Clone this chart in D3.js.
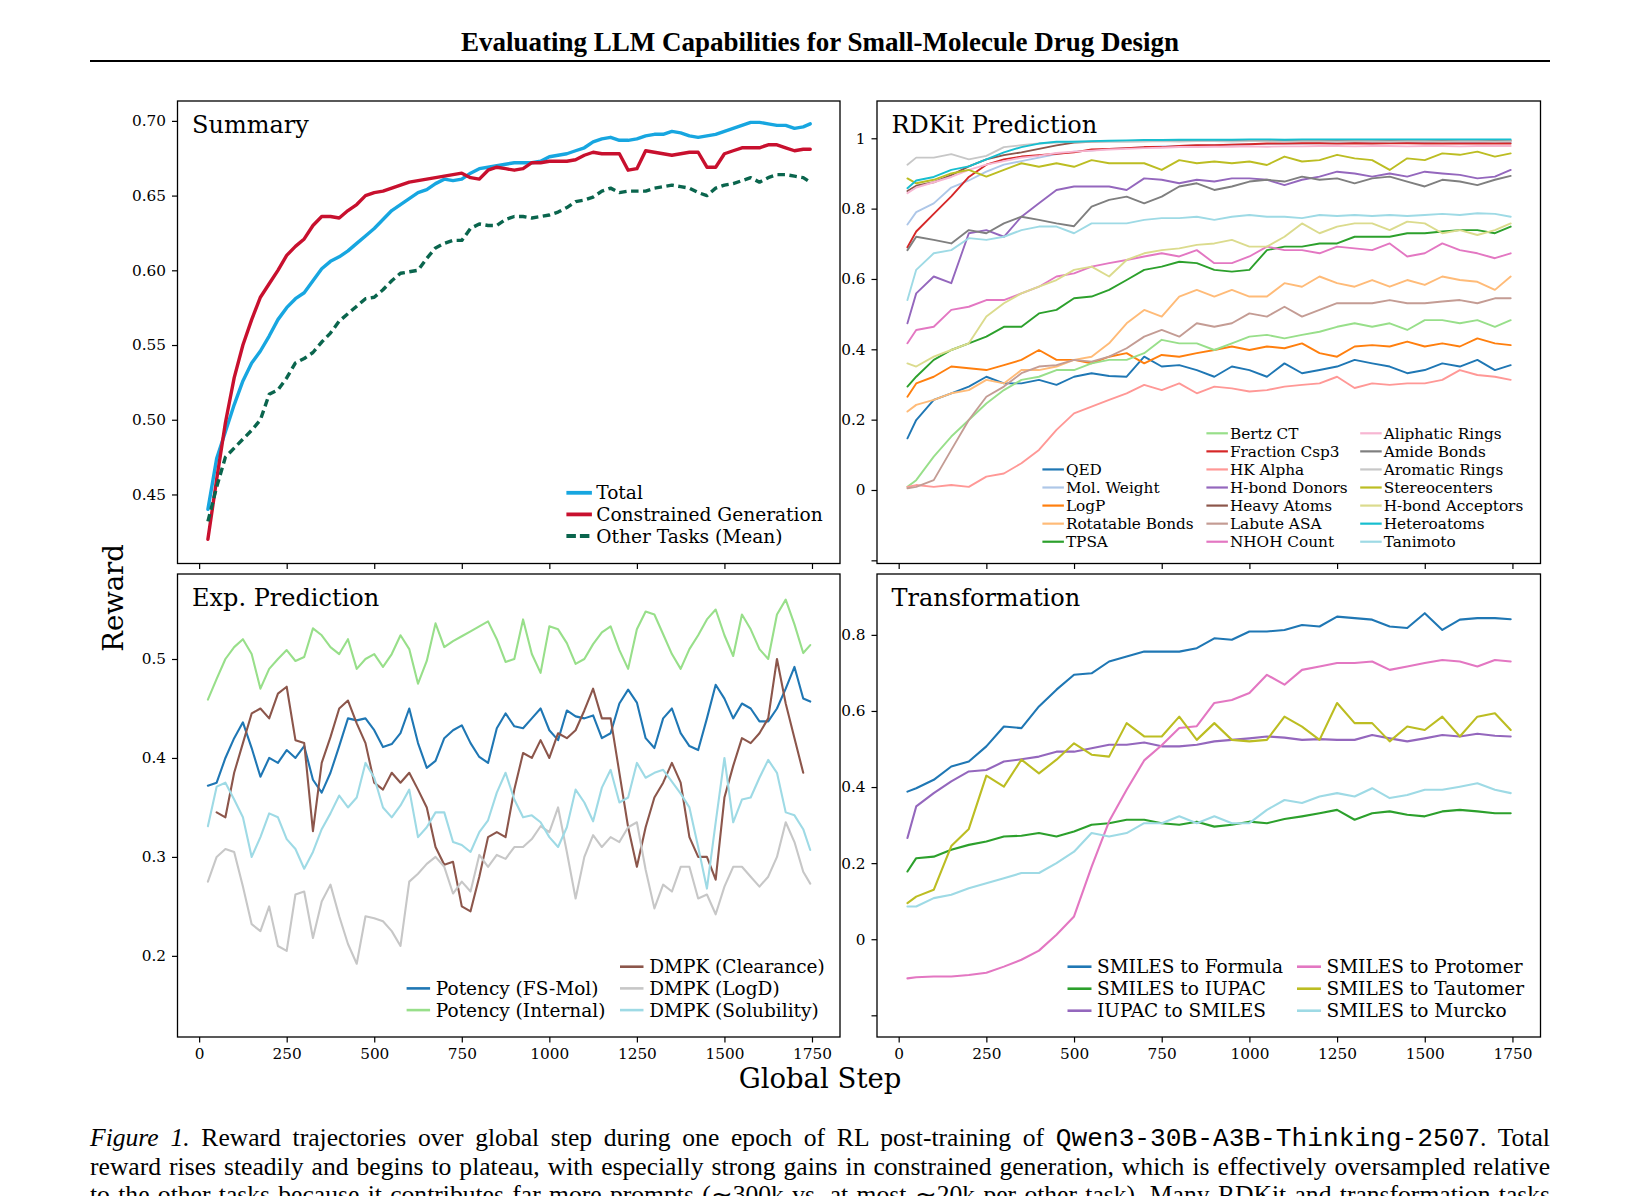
<!DOCTYPE html>
<html>
<head>
<meta charset="utf-8">
<script src="https://cdn.jsdelivr.net/npm/d3@7"></script>
<style>
  body { margin: 0; background: #ffffff; }
  svg { display: block; }
  text { white-space: pre; }
</style>
</head>
<body>
<svg id="fig" width="1639" height="1196"></svg>
<script>
// ---------------- DATA ----------------
const stepsFine = [25,50,75,100,125,150,175,200,225,250,275,300,325,350,375,400,425,450,475,500,
  525,550,575,600,625,650,675,700,725,750,775,800,825,850,875,900,925,950,975,1000,
  1025,1050,1075,1100,1125,1150,1175,1200,1225,1250,1275,1300,1325,1350,1375,1400,1425,1450,1475,1500,
  1525,1550,1575,1600,1625,1650,1675,1700,1725,1745];
const stepsCoarse = [25,50,100,150,200,250,300,350,400,450,500,550,600,650,700,750,800,850,900,950,
  1000,1050,1100,1150,1200,1250,1300,1350,1400,1450,1500,1550,1600,1650,1700,1745];

const xTicks = [0,250,500,750,1000,1250,1500,1750];

// Summary
const sumTotal = [0.440,0.474,0.492,0.510,0.526,0.538,0.546,0.556,0.567,0.575, 0.581,0.585,0.593,0.601,0.606,0.609,0.613,0.618,0.623,0.628,
  0.634,0.640,0.644,0.648,0.652,0.654,0.658,0.661,0.660,0.661, 0.665,0.668,0.669,0.670,0.671,0.672,0.672,0.672,0.673,0.676,
  0.677,0.678,0.680,0.682,0.686,0.688,0.689,0.687,0.687,0.688, 0.690,0.691,0.691,0.693,0.692,0.690,0.689,0.690,0.691,0.693,
  0.695,0.697,0.699,0.699,0.698,0.697,0.697,0.695,0.696, 0.698];
const sumConstrained = [0.420,0.460,0.498,0.528,0.550,0.567,0.582,0.591,0.600,0.610, 0.616,0.621,0.630,0.636,0.636,0.635,0.640,0.644,0.650,0.652,
  0.653,0.655,0.657,0.659,0.660,0.661,0.662,0.663,0.664,0.665, 0.662,0.661,0.667,0.669,0.668,0.667,0.668,0.672,0.672,0.673,
  0.673,0.673,0.674,0.677,0.679,0.678,0.678,0.678,0.667,0.668, 0.680,0.679,0.678,0.677,0.678,0.679,0.679,0.669,0.669,0.678,
  0.680,0.682,0.682,0.682,0.684,0.684,0.682,0.680,0.681, 0.681];
const sumOther = [0.432,0.455,0.475,0.481,0.487,0.493,0.500,0.517,0.520,0.528, 0.538,0.541,0.545,0.552,0.558,0.566,0.571,0.576,0.581,0.582,
  0.587,0.593,0.598,0.599,0.600,0.608,0.615,0.618,0.620,0.620, 0.628,0.631,0.630,0.630,0.634,0.636,0.636,0.635,0.636,0.637,
  0.639,0.642,0.646,0.647,0.649,0.653,0.655,0.652,0.653,0.653, 0.653,0.655,0.656,0.657,0.656,0.655,0.652,0.650,0.655,0.657,
  0.658,0.660,0.662,0.659,0.662,0.664,0.664,0.663,0.662, 0.659];
const sumNames = ["Total","Constrained Generation","Other Tasks (Mean)"];
const sumTicks = [0.45,0.50,0.55,0.60,0.65,0.70];

// RDKit prediction (stepsCoarse)
const rdQED = [0.147,0.199,0.256,0.275,0.294,0.322,0.303,0.303,0.313,0.299,0.322,0.332,0.324,0.322,0.379,0.351,0.355,0.341,0.322,0.351,0.341,0.322,0.360,0.332,0.341,0.351,0.370,0.360,0.351,0.332,0.341,0.360,0.351,0.370,0.341,0.355];
const rdMolWt = [0.755,0.790,0.815,0.860,0.880,0.905,0.925,0.935,0.945,0.955,0.962,0.965,0.970,0.972,0.975,0.977,0.978,0.980,0.981,0.982,0.983,0.984,0.985,0.985,0.986,0.986,0.987,0.986,0.987,0.987,0.988,0.987,0.988,0.988,0.987,0.988];
const rdLogP = [0.265,0.303,0.322,0.351,0.346,0.341,0.355,0.370,0.398,0.370,0.370,0.360,0.379,0.389,0.360,0.384,0.379,0.389,0.398,0.408,0.398,0.408,0.403,0.417,0.389,0.379,0.408,0.412,0.408,0.422,0.408,0.417,0.408,0.431,0.417,0.412];
const rdRotB = [0.223,0.242,0.256,0.275,0.284,0.313,0.303,0.341,0.341,0.351,0.370,0.379,0.417,0.474,0.512,0.493,0.550,0.569,0.550,0.569,0.550,0.550,0.588,0.578,0.607,0.588,0.578,0.597,0.578,0.597,0.583,0.607,0.597,0.592,0.569,0.607];
const rdTPSA = [0.294,0.322,0.370,0.398,0.417,0.436,0.464,0.464,0.502,0.512,0.545,0.550,0.569,0.597,0.626,0.635,0.649,0.645,0.626,0.621,0.626,0.682,0.692,0.692,0.701,0.701,0.720,0.720,0.720,0.730,0.730,0.735,0.739,0.739,0.730,0.749];
const rdBertz = [0.009,0.028,0.095,0.152,0.199,0.246,0.284,0.313,0.322,0.341,0.341,0.360,0.370,0.370,0.389,0.427,0.417,0.417,0.398,0.417,0.436,0.441,0.431,0.441,0.450,0.464,0.474,0.464,0.474,0.455,0.483,0.483,0.474,0.483,0.464,0.483];
const rdFsp3 = [0.690,0.735,0.785,0.835,0.890,0.925,0.940,0.948,0.952,0.956,0.960,0.968,0.970,0.972,0.975,0.975,0.978,0.980,0.980,0.982,0.983,0.985,0.985,0.986,0.986,0.985,0.986,0.985,0.986,0.986,0.985,0.986,0.985,0.985,0.986,0.985];
const rdHK = [0.009,0.014,0.009,0.014,0.009,0.038,0.047,0.076,0.114,0.171,0.218,0.237,0.256,0.275,0.299,0.284,0.303,0.275,0.294,0.289,0.280,0.284,0.294,0.299,0.303,0.322,0.290,0.303,0.299,0.303,0.303,0.313,0.341,0.327,0.322,0.313];
const rdHBD = [0.474,0.559,0.607,0.588,0.730,0.739,0.720,0.777,0.815,0.853,0.863,0.863,0.863,0.853,0.886,0.882,0.872,0.882,0.877,0.886,0.886,0.882,0.867,0.882,0.891,0.905,0.900,0.891,0.900,0.891,0.905,0.900,0.896,0.886,0.891,0.910];
const rdHeavy = [0.850,0.865,0.875,0.895,0.920,0.940,0.952,0.960,0.970,0.980,0.988,0.990,0.992,0.992,0.993,0.992,0.993,0.993,0.993,0.993,0.994,0.993,0.994,0.993,0.994,0.994,0.993,0.994,0.994,0.993,0.994,0.994,0.993,0.994,0.994,0.993];
const rdLabute = [0.005,0.009,0.028,0.114,0.199,0.265,0.294,0.332,0.351,0.355,0.370,0.365,0.379,0.403,0.436,0.455,0.436,0.474,0.464,0.474,0.502,0.493,0.521,0.493,0.512,0.531,0.531,0.531,0.540,0.531,0.531,0.536,0.540,0.531,0.545,0.545];
const rdNHOH = [0.417,0.455,0.464,0.512,0.521,0.540,0.540,0.559,0.578,0.607,0.616,0.635,0.645,0.654,0.664,0.673,0.664,0.682,0.645,0.645,0.664,0.692,0.682,0.682,0.673,0.692,0.687,0.682,0.701,0.664,0.673,0.701,0.682,0.673,0.659,0.673];
const rdAliph = [0.844,0.860,0.875,0.890,0.910,0.925,0.935,0.945,0.950,0.958,0.962,0.965,0.968,0.970,0.972,0.973,0.975,0.975,0.976,0.976,0.977,0.976,0.977,0.977,0.978,0.978,0.977,0.978,0.978,0.977,0.978,0.978,0.977,0.978,0.978,0.978];
const rdAmide = [0.682,0.720,0.711,0.701,0.739,0.730,0.758,0.777,0.768,0.758,0.750,0.806,0.825,0.834,0.815,0.834,0.863,0.872,0.853,0.863,0.877,0.882,0.877,0.891,0.882,0.886,0.872,0.886,0.891,0.877,0.863,0.882,0.877,0.867,0.882,0.893];
const rdArom = [0.925,0.945,0.945,0.955,0.940,0.950,0.975,0.980,0.985,0.988,0.990,0.990,0.991,0.990,0.991,0.992,0.991,0.992,0.992,0.991,0.992,0.992,0.991,0.992,0.992,0.991,0.992,0.992,0.991,0.992,0.992,0.991,0.992,0.992,0.991,0.992];
const rdStereo = [0.886,0.872,0.882,0.900,0.910,0.891,0.910,0.929,0.919,0.929,0.919,0.938,0.929,0.929,0.929,0.910,0.938,0.929,0.934,0.929,0.934,0.924,0.948,0.934,0.938,0.953,0.943,0.938,0.910,0.943,0.938,0.957,0.953,0.962,0.948,0.957];
const rdHBA = [0.360,0.351,0.379,0.398,0.417,0.493,0.531,0.559,0.578,0.597,0.626,0.635,0.607,0.654,0.673,0.682,0.687,0.697,0.701,0.711,0.692,0.692,0.720,0.758,0.730,0.749,0.758,0.758,0.739,0.763,0.758,0.730,0.739,0.725,0.739,0.758];
const rdHetero = [0.858,0.880,0.890,0.910,0.920,0.940,0.960,0.975,0.985,0.990,0.990,0.992,0.993,0.994,0.995,0.995,0.996,0.996,0.996,0.996,0.997,0.997,0.996,0.997,0.997,0.997,0.997,0.997,0.997,0.997,0.997,0.997,0.997,0.997,0.997,0.997];
const rdTanimoto = [0.540,0.626,0.673,0.682,0.716,0.711,0.720,0.739,0.749,0.749,0.730,0.758,0.758,0.758,0.768,0.773,0.773,0.777,0.768,0.777,0.782,0.777,0.777,0.773,0.782,0.779,0.782,0.779,0.782,0.779,0.782,0.785,0.782,0.787,0.785,0.777];
const rdNames = ["QED","Mol. Weight","LogP","Rotatable Bonds","TPSA","Bertz CT","Fraction Csp3","HK Alpha","H-bond Donors","Heavy Atoms","Labute ASA","NHOH Count","Aliphatic Rings","Amide Bonds","Aromatic Rings","Stereocenters","H-bond Acceptors","Heteroatoms","Tanimoto"];
const rdTicks = [-0.2,0,0.2,0.4,0.6,0.8,1];

// Exp. prediction (stepsFine)
const expFSMol = [0.372,0.375,0.400,0.420,0.436,0.410,0.381,0.400,0.395,0.408, 0.400,0.412,0.378,0.365,0.385,0.412,0.440,0.438,0.440,0.428,
  0.411,0.414,0.425,0.450,0.415,0.390,0.397,0.420,0.428,0.433, 0.415,0.401,0.395,0.430,0.445,0.432,0.430,0.440,0.450,0.428,
  0.418,0.448,0.442,0.440,0.443,0.420,0.425,0.455,0.469,0.456, 0.420,0.410,0.440,0.450,0.425,0.412,0.408,0.440,0.474,0.460,
  0.440,0.455,0.450,0.437,0.437,0.450,0.470,0.492,0.460, 0.457];
const expInternal = [0.459,0.480,0.500,0.512,0.520,0.505,0.470,0.490,0.500,0.509, 0.498,0.502,0.531,0.524,0.512,0.505,0.520,0.490,0.500,0.505,
  0.492,0.505,0.524,0.510,0.475,0.498,0.536,0.512,0.518,0.523, 0.528,0.533,0.538,0.520,0.497,0.500,0.540,0.505,0.486,0.533,
  0.530,0.516,0.495,0.500,0.515,0.527,0.533,0.509,0.490,0.530, 0.548,0.545,0.525,0.505,0.490,0.510,0.524,0.540,0.550,0.524,
  0.503,0.545,0.530,0.510,0.500,0.545,0.560,0.535,0.506, 0.514];
const expClearance = [null,0.345,0.340,0.385,0.415,0.445,0.450,0.440,0.465,0.472, 0.418,0.415,0.326,0.395,0.421,0.450,0.458,0.435,0.415,0.375,
  0.368,0.385,0.375,0.385,0.368,0.350,0.310,0.292,0.295,0.250, 0.245,0.280,0.320,0.325,0.320,0.368,0.405,0.400,0.418,0.400,
  0.425,0.420,0.428,0.448,0.470,0.440,0.440,0.385,0.330,0.290, 0.330,0.360,0.375,0.395,0.375,0.320,0.300,0.300,0.277,0.360,
  0.392,0.420,0.415,0.425,0.440,0.500,0.455,0.420,0.385, null];
const expLogD = [0.275,0.300,0.308,0.305,0.270,0.232,0.225,0.250,0.210,0.205, 0.262,0.265,0.218,0.255,0.272,0.240,0.212,0.192,0.240,0.238,
  0.235,0.225,0.210,0.275,0.283,0.293,0.300,0.290,0.263,0.275, 0.265,0.302,0.290,0.302,0.298,0.310,0.310,0.318,0.331,0.325,
  0.350,0.305,0.258,0.300,0.322,0.310,0.320,0.315,0.330,0.335, 0.287,0.248,0.272,0.265,0.290,0.290,0.258,0.262,0.242,0.270,
  0.290,0.290,0.280,0.270,0.280,0.300,0.335,0.315,0.285, 0.273];
const expSolubility = [0.331,0.371,0.375,0.358,0.340,0.300,0.320,0.344,0.340,0.318, 0.308,0.288,0.305,0.328,0.344,0.362,0.350,0.360,0.395,0.380,
  0.350,0.340,0.352,0.368,0.320,0.330,0.345,0.345,0.315,0.312, 0.305,0.325,0.337,0.365,0.385,0.358,0.340,0.342,0.335,0.320,
  0.310,0.330,0.368,0.355,0.336,0.370,0.388,0.355,0.360,0.395, 0.380,0.385,0.388,0.376,0.364,0.350,0.310,0.268,0.335,0.400,
  0.335,0.358,0.360,0.380,0.398,0.385,0.345,0.342,0.328, 0.307];
const expNames = ["Potency (FS-Mol)","Potency (Internal)","DMPK (Clearance)","DMPK (LogD)","DMPK (Solubility)"];
const expTicks = [0.2,0.3,0.4,0.5];

// Transformation (stepsCoarse)
const trFormula = [0.388,0.397,0.419,0.454,0.467,0.507,0.559,0.555,0.612,0.656,0.695,0.699,0.730,0.743,0.756,0.756,0.756,0.765,0.791,0.787,0.809,0.809,0.813,0.826,0.822,0.848,0.844,0.840,0.822,0.818,0.857,0.813,0.840,0.844,0.844,0.841];
const trIUPAC = [0.178,0.213,0.217,0.235,0.248,0.257,0.270,0.272,0.279,0.270,0.283,0.301,0.305,0.314,0.314,0.305,0.301,0.309,0.296,0.301,0.309,0.305,0.316,0.323,0.331,0.340,0.314,0.331,0.336,0.327,0.323,0.336,0.340,0.336,0.331,0.331];
const trIUPAC2SMILES = [0.266,0.349,0.384,0.415,0.441,0.445,0.467,0.473,0.480,0.493,0.493,0.502,0.511,0.511,0.517,0.507,0.507,0.511,0.520,0.524,0.528,0.533,0.530,0.524,0.526,0.524,0.524,0.537,0.528,0.520,0.528,0.537,0.533,0.540,0.535,0.533];
const trProtomer = [-0.103,-0.100,-0.098,-0.098,-0.094,-0.088,-0.072,-0.054,-0.030,0.012,0.060,0.190,0.310,0.393,0.470,0.510,0.555,0.560,0.621,0.629,0.647,0.695,0.669,0.708,0.717,0.726,0.726,0.730,0.708,0.717,0.726,0.734,0.730,0.717,0.734,0.730];
const trTautomer = [0.095,0.112,0.130,0.245,0.290,0.430,0.401,0.472,0.436,0.472,0.515,0.485,0.480,0.568,0.533,0.533,0.585,0.524,0.568,0.524,0.520,0.524,0.585,0.559,0.524,0.621,0.568,0.568,0.520,0.559,0.550,0.585,0.533,0.585,0.594,0.550];
const trMurcko = [0.086,0.086,0.108,0.117,0.134,0.147,0.160,0.174,0.174,0.200,0.230,0.279,0.270,0.279,0.305,0.305,0.323,0.305,0.323,0.305,0.305,0.340,0.366,0.358,0.375,0.384,0.375,0.397,0.371,0.379,0.393,0.393,0.401,0.410,0.393,0.384];
const trNames = ["SMILES to Formula","SMILES to IUPAC","IUPAC to SMILES","SMILES to Protomer","SMILES to Tautomer","SMILES to Murcko"];
const trTicks = [-0.2,0,0.2,0.4,0.6,0.8];

// ---------------- STYLE / LAYOUT ----------------
const SERIF = "'DejaVu Serif', serif";
const TIMES = "'Liberation Serif', 'Times New Roman', Times, serif";
const MONO = "'Liberation Mono', 'Courier New', monospace";
const tab = {blue:"#1f77b4", lblue:"#aec7e8", orange:"#ff7f0e", lorange:"#ffbb78", green:"#2ca02c", lgreen:"#98df8a",
  red:"#d62728", lred:"#ff9896", purple:"#9467bd", brown:"#8c564b", lbrown:"#c49c94",
  pink:"#e377c2", lpink:"#f7b6d2", gray:"#7f7f7f", lgray:"#c7c7c7", olive:"#bcbd22", lolive:"#dbdb8d",
  cyan:"#17becf", lcyan:"#9edae5"};

const xDomain = [-61.8, 1830];

const panels = [
  { title: "Summary", box: [177.5, 101, 840, 563.5], yDomain: [0.4038, 0.7133],
    yTicks: sumTicks, yFmt: d => d.toFixed(2), xLabels: false, steps: stepsFine, lw: 3.4,
    series: [
      {values: sumTotal, color: "#17a6e0"},
      {values: sumConstrained, color: "#c8102e"},
      {values: sumOther, color: "#0a654d", dash: "7.5,4.5"}],
    names: sumNames,
    legend: {font: 18.6, handleW: 25.5, textOff: 29.8, colX: [566.4], rowY0: 492.8, rowDy: 21.6, lw: 3.8,
             pos: [[0,0],[0,1],[0,2]]} },
  { title: "RDKit Prediction", box: [877, 101, 1540.5, 563.5], yDomain: [-0.209, 1.106],
    yTicks: rdTicks, yFmt: d => (d < 0 ? "" : d3.format("~g")(d)), xLabels: false, steps: stepsCoarse, lw: 1.9,
    series: [
      {values: rdQED, color: tab.blue}, {values: rdMolWt, color: tab.lblue}, {values: rdLogP, color: tab.orange},
      {values: rdRotB, color: tab.lorange}, {values: rdTPSA, color: tab.green}, {values: rdBertz, color: tab.lgreen},
      {values: rdFsp3, color: tab.red}, {values: rdHK, color: tab.lred}, {values: rdHBD, color: tab.purple},
      {values: rdHeavy, color: tab.brown}, {values: rdLabute, color: tab.lbrown}, {values: rdNHOH, color: tab.pink},
      {values: rdAliph, color: tab.lpink}, {values: rdAmide, color: tab.gray}, {values: rdArom, color: tab.lgray},
      {values: rdStereo, color: tab.olive}, {values: rdHBA, color: tab.lolive}, {values: rdHetero, color: tab.cyan},
      {values: rdTanimoto, color: tab.lcyan}],
    names: rdNames,
    legend: {font: 15.3, handleW: 21.5, textOff: 23.5, colX: [1042.4, 1206.4, 1360.2], rowY0: 433.3, rowDy: 18.07, lw: 2.2,
             pos: [[0,2],[0,3],[0,4],[0,5],[0,6],[1,0],[1,1],[1,2],[1,3],[1,4],[1,5],[1,6],[2,0],[2,1],[2,2],[2,3],[2,4],[2,5],[2,6]]} },
  { title: "Exp. Prediction", box: [177.5, 574, 840, 1037], yDomain: [0.118, 0.5859],
    yTicks: expTicks, yFmt: d => d3.format("~g")(d), xLabels: true, steps: stepsFine, lw: 2.1,
    series: [
      {values: expFSMol, color: tab.blue}, {values: expInternal, color: tab.lgreen}, {values: expClearance, color: tab.brown},
      {values: expLogD, color: tab.lgray}, {values: expSolubility, color: tab.lcyan}],
    names: expNames,
    legend: {font: 18.5, handleW: 23.5, textOff: 29.2, colX: [406.6, 620], rowY0: 966.7, rowDy: 21.7, lw: 2.6,
             pos: [[0,1],[0,2],[1,0],[1,1],[1,2]]} },
  { title: "Transformation", box: [877, 574, 1540.5, 1037], yDomain: [-0.257, 0.960],
    yTicks: trTicks, yFmt: d => (d < 0 ? "" : d3.format("~g")(d)), xLabels: true, steps: stepsCoarse, lw: 2.1,
    series: [
      {values: trFormula, color: tab.blue}, {values: trIUPAC, color: tab.green}, {values: trIUPAC2SMILES, color: tab.purple},
      {values: trProtomer, color: tab.pink}, {values: trTautomer, color: tab.olive}, {values: trMurcko, color: tab.lcyan}],
    names: trNames,
    legend: {font: 18.5, handleW: 24, textOff: 29.5, colX: [1067.5, 1297], rowY0: 966.7, rowDy: 22, lw: 2.6,
             pos: [[0,0],[0,1],[0,2],[1,0],[1,1],[1,2]]} }
];

// ---------------- DRAW ----------------
const svg = d3.select("#fig");
svg.append("rect").attr("width", 1639).attr("height", 1196).attr("fill", "#fff");

// running title
svg.append("text").attr("x", 820).attr("y", 51).attr("text-anchor", "middle")
  .attr("font-family", TIMES).attr("font-weight", "bold").attr("font-size", 27)
  .attr("fill", "#000").text("Evaluating LLM Capabilities for Small-Molecule Drug Design");
svg.append("line").attr("x1", 90).attr("x2", 1550).attr("y1", 61).attr("y2", 61)
  .attr("stroke", "#000").attr("stroke-width", 2.2);

panels.forEach((p, pi) => {
  const [x0, y0, x1, y1] = p.box;
  const x = d3.scaleLinear().domain(xDomain).range([x0, x1]);
  const y = d3.scaleLinear().domain(p.yDomain).range([y1, y0]);
  const g = svg.append("g");
  const clipId = "clip" + pi;
  g.append("clipPath").attr("id", clipId).append("rect")
    .attr("x", x0).attr("y", y0).attr("width", x1 - x0).attr("height", y1 - y0);

  const line = d3.line().defined(d => d[1] != null).x(d => x(d[0])).y(d => y(d[1]));
  const lg = g.append("g").attr("clip-path", `url(#${clipId})`);
  p.series.forEach(s => {
    const pts = p.steps.map((st, i) => [st, s.values[i]]);
    lg.append("path").attr("d", line(pts)).attr("fill", "none")
      .attr("stroke", s.color).attr("stroke-width", p.lw)
      .attr("stroke-linejoin", "round").attr("stroke-linecap", s.dash ? "butt" : "round")
      .attr("stroke-dasharray", s.dash || null);
  });

  // axes
  const xAxis = d3.axisBottom(x).tickValues(xTicks).tickSize(5.5).tickPadding(5)
    .tickFormat(p.xLabels ? d3.format("d") : () => "");
  const ax = g.append("g").attr("transform", `translate(0,${y1})`).call(xAxis);
  const yAxis = d3.axisLeft(y).tickValues(p.yTicks).tickSize(5.5).tickPadding(6).tickFormat(p.yFmt);
  const ay = g.append("g").attr("transform", `translate(${x0},0)`).call(yAxis);
  [ax, ay].forEach(a => {
    a.select(".domain").remove();
    a.selectAll(".tick line").attr("stroke", "#000").attr("stroke-width", 1.2);
    a.selectAll(".tick text").attr("font-family", SERIF).attr("font-size", 15.3).attr("fill", "#000");
  });
  ax.selectAll(".tick text").attr("dy", "0.75em");

  // spines
  g.append("rect").attr("x", x0).attr("y", y0).attr("width", x1 - x0).attr("height", y1 - y0)
    .attr("fill", "none").attr("stroke", "#000").attr("stroke-width", 1.3);

  // title
  g.append("text").attr("x", x0 + 14.5).attr("y", y0 + 32.3).attr("font-family", SERIF)
    .attr("font-size", 24).attr("fill", "#000").text(p.title);

  // legend
  const L = p.legend;
  p.series.forEach((s, i) => {
    const [c, r] = L.pos[i];
    const hx = L.colX[c], ry = L.rowY0 + r * L.rowDy;
    g.append("line").attr("x1", hx).attr("x2", hx + L.handleW).attr("y1", ry).attr("y2", ry)
      .attr("stroke", s.color).attr("stroke-width", L.lw)
      .attr("stroke-dasharray", s.dash ? "9.5,4" : null);
    g.append("text").attr("x", hx + L.textOff).attr("y", ry).attr("dy", "0.36em")
      .attr("font-family", SERIF).attr("font-size", L.font).attr("fill", "#000").text(p.names[i]);
  });
});

// figure labels
svg.append("text").attr("x", 820).attr("y", 1078).attr("dy", "0.36em").attr("text-anchor", "middle")
  .attr("font-family", SERIF).attr("font-size", 27.5).attr("fill", "#000").text("Global Step");
svg.append("text").attr("transform", "translate(113,598) rotate(-90)").attr("dy", "0.36em")
  .attr("text-anchor", "middle").attr("font-family", SERIF).attr("font-size", 27.5)
  .attr("fill", "#000").text("Reward");

// caption (justified to the text block width)
const capLines = [
  [{t: "Figure 1.", i: true}, {t: " Reward trajectories over global step during one epoch of RL post-training of "},
   {t: "Qwen3-30B-A3B-Thinking-2507", m: true}, {t: ". Total"}],
  [{t: "reward rises steadily and begins to plateau, with especially strong gains in constrained generation, which is effectively oversampled relative"}],
  [{t: "to the other tasks because it contributes far more prompts (\u223c300k vs. at most \u223c20k per other task). Many RDKit and transformation tasks"}]
];
const capY = [1146, 1174.5, 1203];
capLines.forEach((parts, li) => {
  const t = svg.append("text").attr("x", 90).attr("y", capY[li])
    .attr("font-family", TIMES).attr("font-size", 25.6).attr("fill", "#000");
  parts.forEach(pt => {
    const ts = t.append("tspan").text(pt.t);
    if (pt.i) ts.attr("font-style", "italic");
    if (pt.m) ts.attr("font-family", MONO).attr("font-size", 26.2).attr("font-weight", 300);
  });
  const node = t.node();
  const len = node.getComputedTextLength();
  const nSp = (node.textContent.match(/ /g) || []).length;
  const target = 1460;
  if (nSp > 0) t.attr("word-spacing", (target - len) / nSp);
});
</script>
</body>
</html>
